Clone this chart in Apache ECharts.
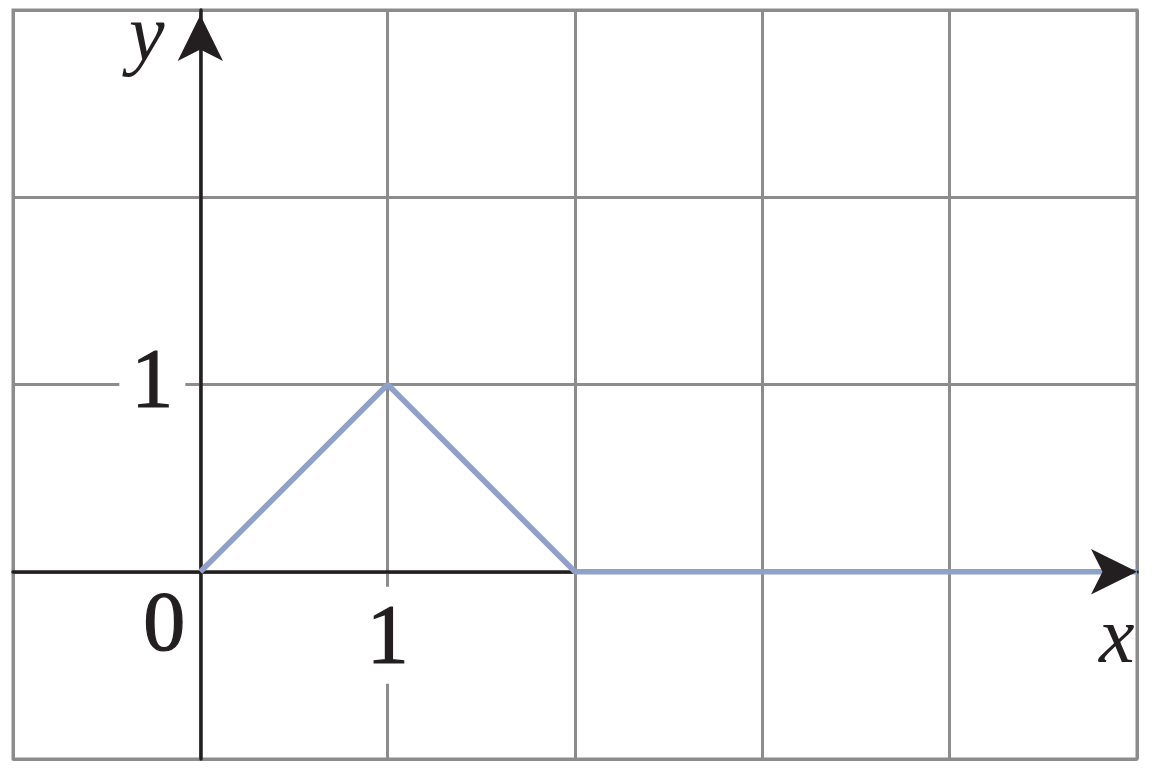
<!DOCTYPE html>
<html><head><meta charset="utf-8">
<script src="https://cdn.jsdelivr.net/npm/echarts@6/dist/echarts.min.js"></script>
<style>html,body{margin:0;padding:0;background:#fff}#c{width:1160px;height:769px}</style>
</head><body><div id="c"></div>
<script>
const xValues = [0, 1, 2, 5];
const yValues = [0, 1, 0, 0];
const xRange = [-1, 5];
const yRange = [-1, 3];
const xTickValues = [1];
const xTickTexts = ['1'];
const yTickValues = [1];
const yTickTexts = ['1'];
const originText = '0';
const axisNames = {x: 'x', y: 'y'};

const chart = echarts.init(document.getElementById('c'));
const gridColor = '#8c8c8c', axisColor = '#231f20', lineColor = '#8fa1c8';
const serif = '"Liberation Serif", "Times New Roman", serif';
const labelFont = {fontFamily: serif, fontSize: 84, lineHeight: 80, color: axisColor, opacity: 1,
                   textBorderColor: axisColor, textBorderWidth: 1.2};

chart.setOption({
  animation: false,
  backgroundColor: '#fff',
  grid: {left: 13, right: 23, top: 10, bottom: 10, containLabel: false, outerBoundsMode: 'none',
         show: true, borderColor: gridColor, borderWidth: 3, backgroundColor: 'transparent'},
  xAxis: {
    type: 'value', min: xRange[0], max: xRange[1], interval: 1,
    axisLine: {onZero: true, lineStyle: {color: axisColor, width: 3.5}},
    axisTick: {show: false},
    axisLabel: {show: false},
    splitLine: {show: true, lineStyle: {color: gridColor, width: 3}}
  },
  yAxis: {
    type: 'value', min: yRange[0], max: yRange[1], interval: 1,
    axisLine: {onZero: true, symbol: ['none', 'arrow'], symbolSize: [34, 46], symbolOffset: [0, -5], lineStyle: {color: axisColor, width: 3.5}},
    axisTick: {show: false},
    axisLabel: {show: false},
    splitLine: {show: true, lineStyle: {color: gridColor, width: 3}}
  },
  series: [{
    type: 'line',
    data: xValues.map((x, i) => [x, yValues[i]]),
    symbol: 'none',
    lineStyle: {color: lineColor, width: 5.5},
    z: 3,
    markPoint: {
      symbol: 'arrow', symbolSize: [34, 46], symbolRotate: -90, symbolOffset: [0, 0],
      itemStyle: {color: axisColor}, label: {show: false},
      data: [{coord: [xRange[1], 0]}]
    }
  }, {
    type: 'scatter', z: 4, symbolSize: 0, itemStyle: {color: axisColor, opacity: 1}, silent: true,
    data: xTickValues.map((v, i) => ({value: [v, 0], name: xTickTexts[i]})),
    label: {show: true, position: 'bottom', distance: 15, formatter: p => p.name,
            ...labelFont, backgroundColor: '#fff', padding: [14, 8, 3, 8]}
  }, {
    type: 'scatter', z: 4, symbolSize: 0, itemStyle: {color: axisColor, opacity: 1}, silent: true,
    data: yTickValues.map((v, i) => ({value: [0, v], name: yTickTexts[i]})).concat([
      {value: [0, 0], name: originText, label: {backgroundColor: 'transparent', offset: [0, 56], padding: [0, 0, 0, 0]}}
    ]),
    label: {show: true, position: 'left', distance: 15, formatter: p => p.name,
            ...labelFont, backgroundColor: '#fff', padding: [0, 12, 0, 12]}
  }],
  graphic: [
    {type: 'text', left: 129, top: -1, z: 10, style: {text: axisNames.y, font: 'italic 80px ' + serif, fill: axisColor}},
    {type: 'text', left: 1099, top: 601, z: 10, style: {text: axisNames.x, font: 'italic 80px ' + serif, fill: axisColor}}
  ]
});
</script></body></html>
